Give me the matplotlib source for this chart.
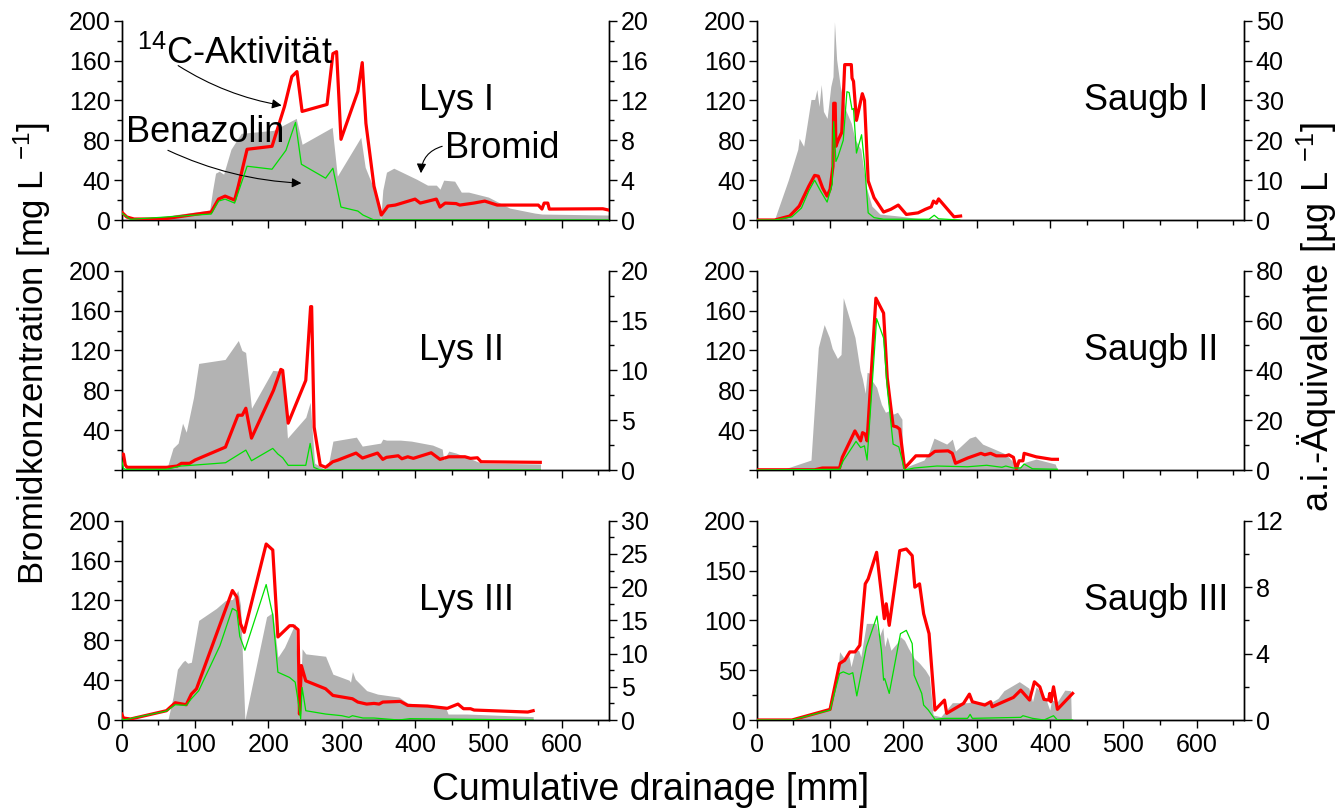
import numpy as np
import matplotlib.pyplot as plt
from matplotlib.ticker import MultipleLocator

plt.rcParams['font.family'] = ['Liberation Sans', 'DejaVu Sans']
plt.rcParams['mathtext.fontset'] = 'custom'
plt.rcParams['mathtext.rm'] = 'Liberation Sans'
plt.rcParams['mathtext.default'] = 'regular'

# --- Lys I  (Bromid mg/L, 14C und Benazolin ug/L) ---
lys1_br_x = [0, 60, 120, 124, 128, 133, 139, 149, 163, 207, 238, 246, 287, 294, 326, 332, 350, 353,
             356, 361, 371, 402, 417, 429, 434, 439, 454, 463, 473, 500, 529, 563, 573, 664]
lys1_br_y = [0, 4, 10, 30, 47, 49, 46, 71, 87, 90, 102, 76, 93, 44, 83, 53, 20, 0,
             30, 48, 52, 41, 35, 35, 31, 40, 39, 28, 28, 23, 12, 7, 6, 5]
lys1_c14_x = [0, 7, 17, 37, 61, 122, 132, 141, 154, 159, 171, 205, 222, 232, 239, 246, 280, 288, 293,
              299, 322, 328, 333, 344, 354, 363, 373, 400, 407, 429, 434, 441, 456, 461, 480, 495, 512,
              568, 573, 576, 581, 583, 656, 664]
lys1_c14_y = [0.8, 0.3, 0.1, 0.1, 0.15, 0.8, 2.1, 2.4, 2.0, 3.4, 7.1, 7.4, 11.4, 14.4, 14.9, 10.9, 11.6,
              16.7, 16.9, 8.1, 12.9, 15.8, 9.7, 3.4, 0.5, 1.4, 1.5, 2.1, 1.7, 2.1, 1.3, 1.7, 1.65, 1.5,
              1.7, 1.9, 1.5, 1.5, 1.1, 1.7, 1.7, 1.1, 1.13, 1.0]
lys1_bz_x = [0, 12, 122, 132, 141, 154, 171, 205, 224, 237, 245, 278, 288, 299, 322, 329, 344, 664]
lys1_bz_y = [0.7, 0.07, 0.6, 1.9, 2.1, 1.7, 5.4, 5.1, 7.0, 9.8, 5.6, 4.2, 5.2, 1.3, 0.9, 0.5, 0, 0]

# --- Saugb I ---
saug1_br_x = [0, 24, 43, 56, 58, 64, 74, 79, 82, 85, 88, 91, 96, 101, 104, 106, 109, 114, 121, 129,
              134, 142, 149, 157, 168, 194, 215, 225, 240, 246]
saug1_br_y = [0, 0, 40, 71, 82, 74, 121, 121, 131, 114, 136, 109, 102, 134, 144, 199, 161, 134, 111, 97,
              81, 71, 34, 14, 6, 4, 2, 1, 1, 0]
saug1_c14_x = [0, 24.5, 45, 58, 71, 79, 84, 90, 96, 100, 104, 105, 107, 108, 111, 116, 120, 129, 130,
               132, 136, 144, 147, 152, 160, 173, 183, 193, 204, 220, 230, 238, 241, 245, 248, 269, 278]
saug1_c14_y = [0, 0, 1.0, 3.5, 8.5, 11.2, 11.0, 8.0, 6.0, 7.7, 13.5, 29.3, 29.3, 18.5, 20, 22, 39, 39,
               35.6, 34.8, 25, 31.7, 30, 9.8, 5.6, 2.0, 2.7, 3.75, 1.4, 1.8, 2.7, 3.3, 4.75, 4.2, 5.3,
               0.8, 1.0]
saug1_bz_x = [0, 24.5, 48, 61, 71, 79, 87, 96, 103, 105, 108, 111, 118, 123, 126, 130, 132, 136, 143,
              147, 152, 160, 173, 235, 242, 248, 277]
saug1_bz_y = [0, 0, 0.8, 3.0, 7.3, 10, 7.3, 4.5, 9, 24.7, 14.7, 16, 20, 32.2, 32, 27.7, 28, 16.8, 21.4,
              14.3, 1.8, 0.6, 0.2, 0.2, 1.2, 0.3, 0]

# --- Lys II ---
lys2_br_x = [0, 61, 70, 77, 83, 88, 98, 105, 141, 159, 164, 169, 177, 206, 220, 226, 251, 257, 263,
             278, 283, 288, 320, 328, 353, 356, 361, 380, 395, 424, 437, 439, 446, 456, 480, 490, 571]
lys2_br_y = [0, 0, 22, 27, 47, 38, 73, 107, 111, 130, 120, 118, 62, 100, 99, 32, 53, 68, 7,
             0, 10, 29, 33, 24, 27, 31, 30, 30, 29, 25, 21, 10, 19, 17, 10, 7, 6]
lys2_c14_x = [0, 2.4, 4.9, 7.3, 61, 75.6, 81.5, 92.7, 100, 141.5, 158.5, 164.4, 169.3, 177, 207, 217,
              219.5, 227, 251, 257.6, 259, 262.4, 270.7, 278, 287.8, 295, 319.5, 328.3, 348.8, 356,
              361, 377, 382, 390, 397.6, 422, 434, 446, 468, 475.6, 485, 490, 570.7]
lys2_c14_y = [1.6, 1.6, 0.5, 0.27, 0.27, 0.4, 0.67, 0.67, 1.0, 2.3, 5.5, 5.5, 6.2, 3.2, 8.0, 10.1,
              10.0, 4.7, 9.0, 16.4, 16.4, 4.3, 0.5, 0.27, 0.83, 1.0, 1.7, 1.2, 1.7, 1.07,
              1.27, 1.43, 1.13, 1.33, 1.17, 1.73, 1.07, 1.33, 1.33, 1.17, 1.23, 0.83, 0.77]
lys2_bz_x = [0, 2.4, 4.9, 61, 80.5, 100, 141.5, 169.3, 177, 206, 213, 219.5, 227, 251, 257, 262,
             270.7, 570.7]
lys2_bz_y = [1.0, 0.17, 0.07, 0.07, 0.4, 0.5, 0.73, 2.0, 0.93, 2.17, 1.6, 1.23, 0.47, 0.47, 2.67,
             0.27, 0, 0]

# --- Saugb II ---
saug2_br_x = [0, 37.5, 74, 84, 92, 99, 103, 110, 115, 118, 126, 134, 141, 144, 148, 150.5, 155, 157,
              163.5, 170, 175.5, 182, 186, 192, 198, 199, 207, 228, 235, 241.7, 259, 266.7, 271, 290,
              298, 308, 324, 339.6, 350, 357.8, 365.6, 381, 407, 410]
saug2_br_y = [0, 1, 10, 123, 146, 133, 122, 112, 116, 173, 153, 133, 100, 92, 77, 98, 97, 90,
              83, 66, 58, 60, 56, 58, 51, 0, 4, 10, 18, 32, 26, 31, 19, 32,
              34, 26, 21, 16, 7.7, 3, 7.7, 11, 6, 0]
saug2_c14_x = [0, 79, 89.6, 113, 116.7, 133.9, 141.7, 144.3, 148, 150.5, 162.5, 173, 178, 186, 191,
               195, 201.6, 206.8, 217, 235, 243, 261, 266.7, 271, 287.5, 305.7, 311, 318.8, 326.6,
               339.6, 343.8, 350, 354, 357.8, 363, 364.6, 381, 402, 410]
saug2_c14_y = [0.1, 0.1, 0.8, 0.8, 5.1, 15.7, 11.7, 15, 14.4, 11.7, 69, 63, 37, 17.7, 17.3,
               16.4, 0.8, 2.4, 5.7, 5.7, 7.5, 7.7, 6.7, 2.7, 4.8, 6.7, 6.1, 6.7, 5.7,
               5.7, 6.1, 5.1, 0.4, 3.7, 3.7, 6.7, 5.3, 4.3, 4.3]
saug2_bz_x = [0, 113, 118, 135.4, 141.7, 146.9, 150.5, 163.5, 173, 178, 186, 193.75, 201.6, 214.6,
              245.8, 287.5, 313.5, 334.4, 339.6, 350, 360, 364.6, 376, 410]
saug2_bz_y = [0, 0.3, 3.7, 11.5, 9, 9.7, 4, 60.8, 53, 33, 10.4, 9.3, 0, 0.8,
              1.6, 1.3, 1.9, 1.1, 1.6, 0.8, 0.8, 2.4, 0.5, 0.3]

# --- Lys III ---
lys3_br_x = [0, 63, 70, 76, 83, 86, 90, 95, 105, 129, 141.5, 151, 158.5, 162, 168, 197.6, 206, 213,
             222, 236.6, 242.4, 246, 251, 278, 288, 310, 312, 314.6, 318.5, 334, 349, 378, 390,
             441.5, 445, 470.7, 561]
lys3_br_y = [0, 0, 23, 51, 58, 60, 57, 58, 100, 112, 120, 121, 130, 115, 0, 103.7, 108, 63,
             73, 97, 0, 71.5, 66.4, 64, 46, 40, 38, 48.6, 41, 29.5, 26, 23, 17,
             12.7, 6, 6, 3.4]
lys3_c14_x = [0, 2.4, 12, 61, 73, 88, 95, 102, 151, 157, 162, 167, 197, 206, 213, 229, 234, 240.5,
              242.4, 245, 251, 278, 288, 314.6, 322, 334, 344, 351, 356, 380, 390, 417, 444, 458.5,
              466, 475.6, 480.5, 553.7, 561]
lys3_c14_y = [0.9, 0.3, 0.15, 1.4, 2.6, 2.3, 3.9, 4.7, 19.5, 18.5, 14.5, 13.2, 26.5, 25.6, 12.5,
              14.2, 14.2, 13.6, 0.9, 8.2, 5.9, 4.7, 3.7, 3.2, 2.7, 2.4, 2.5, 2.4, 2.7, 2.8, 2.2,
              2.1, 1.76, 2.4, 1.7, 1.7, 1.5, 1.2, 1.4]
lys3_bz_x = [0, 2.4, 61, 73, 88, 95, 105, 134, 151, 157, 161, 168, 197, 206, 213, 229, 236.6, 240.5,
             244, 246, 251, 278, 300, 310, 314.6, 329, 344, 378, 393, 561]
lys3_bz_y = [0.3, 0, 1.35, 2.3, 2.2, 3.2, 4.4, 11.2, 16.8, 16.4, 12.6, 10.5, 20.4, 15.8, 7.2, 6.4,
             5.7, 2.9, 0.15, 4.9, 1.4, 0.9, 0.65, 0.4, 0.65, 0.3, 0.3, 0, 0.2, 0]

# --- Saugb III ---
saug3_br_x = [0, 48, 100, 110, 113, 121, 125, 128.6, 134, 139, 142, 149.5, 162.5, 167, 172, 174.5,
              178, 183, 191, 196, 201.5, 206.8, 214.6, 222, 230, 235.4, 240.6, 251, 266.7, 287.5,
              295, 319, 329, 337, 358, 371, 376, 381, 394, 399.5, 402, 410, 420, 428, 429]
saug3_br_y = [0, 0, 10, 45, 68.6, 60, 67, 53.5, 70, 70, 63.5, 97, 97, 83.6, 93, 73.6,
              83.6, 70, 77, 83.6, 80, 72, 62, 57, 50, 43.5, 5, 3.3, 17.4, 17.4,
              18.4, 17.4, 21.7, 29.4, 38.5, 32, 18.4, 33.4, 21.7, 10, 20, 18.4, 30, 29.4, 0]
saug3_c14_x = [0, 48, 100, 113, 120, 127, 134, 140.6, 148, 152, 163.5, 174, 176.6, 180.7, 195, 204,
               212, 215.6, 222, 227.6, 235, 243, 256, 259, 282, 290, 294, 311, 319, 321, 350, 360,
               372, 378.6, 386, 391.7, 398, 399.5, 401, 404.7, 410, 430.7]
saug3_c14_y = [0, 0, 0.64, 3.4, 3.6, 4.1, 4.1, 4.5, 8.2, 8.5, 10.1, 6.1, 7.0, 5.7, 10.2, 10.3,
               9.9, 8.0, 8.2, 6.4, 5.2, 0.6, 1.2, 0.4, 1.0, 1.56, 1.1, 0.9, 1.1, 0.8, 1.36, 1.8,
               1.2, 2.3, 2.0, 1.24, 1.2, 1.6, 1.1, 2.0, 0.64, 1.6]
saug3_bz_x = [0, 48, 100, 113, 118, 126, 131, 136.5, 149.5, 164, 170, 173, 174.5, 180.7, 196, 204,
              212, 214.6, 225, 227.6, 234, 243, 256, 287.5, 291, 294, 360, 363, 376, 391.7, 404.7,
              410, 430.7]
saug3_bz_y = [0, 0, 0.6, 2.8, 2.9, 2.75, 2.85, 1.45, 4.4, 6.26, 4.2, 2.4, 2.5, 1.6, 5.2, 5.4,
              4.6, 2.7, 1.6, 0.9, 0.6, 0.04, 0.1, 0.1, 0.34, 0.1, 0.16, 0.26, 0.1, 0, 0.26,
              0, 0]

# name, Bromid, 14C, Benazolin, rechte Achse max, major/minor rechts, major/minor links
panels = [
    ('Lys I', lys1_br_x, lys1_br_y, lys1_c14_x, lys1_c14_y, lys1_bz_x, lys1_bz_y, 20, 4, 2, 40, 20),
    ('Saugb I', saug1_br_x, saug1_br_y, saug1_c14_x, saug1_c14_y, saug1_bz_x, saug1_bz_y, 50, 10, 5, 40, 20),
    ('Lys II', lys2_br_x, lys2_br_y, lys2_c14_x, lys2_c14_y, lys2_bz_x, lys2_bz_y, 20, 5, 2.5, 40, 20),
    ('Saugb II', saug2_br_x, saug2_br_y, saug2_c14_x, saug2_c14_y, saug2_bz_x, saug2_bz_y, 80, 20, 10, 40, 20),
    ('Lys III', lys3_br_x, lys3_br_y, lys3_c14_x, lys3_c14_y, lys3_bz_x, lys3_bz_y, 30, 5, 2.5, 40, 20),
    ('Saugb III', saug3_br_x, saug3_br_y, saug3_c14_x, saug3_c14_y, saug3_bz_x, saug3_bz_y, 12, 4, 2, 50, 25),
]

fig = plt.figure(figsize=(13.4, 8.08), dpi=100)

col_left = [0.0908, 0.5647]
col_w = 0.3640
row_bot = [0.7277, 0.4183, 0.1089]
row_h = 0.2466
label_x = [405, 446]

axes = []
for i, p in enumerate(panels):
    name, bx, by, cx, cy, zx, zy, rmax, rmaj, rmin, lmaj, lmin = p
    row, col = i // 2, i % 2
    ax = fig.add_axes([col_left[col], row_bot[row], col_w, row_h])
    ax2 = ax.twinx()

    ax.fill_between(bx, 0, by, color='#b3b3b3', lw=0)
    ax2.plot(cx, cy, color='#ff0000', lw=2.3, zorder=3)
    ax2.plot(zx, zy, color='#00e000', lw=0.9, zorder=4)

    ax.set_xlim(0, 665)
    ax.set_ylim(0, 200)
    ax2.set_ylim(0, rmax)

    ax.xaxis.set_major_locator(MultipleLocator(100))
    ax.xaxis.set_minor_locator(MultipleLocator(50))
    ax.yaxis.set_major_locator(MultipleLocator(lmaj))
    ax.yaxis.set_minor_locator(MultipleLocator(lmin))
    ax2.yaxis.set_major_locator(MultipleLocator(rmaj))
    ax2.yaxis.set_minor_locator(MultipleLocator(rmin))

    if row == 1:
        ax.set_yticks(np.arange(0, 201, 40))
        ax.set_yticklabels([''] + [str(v) for v in range(40, 201, 40)])

    for a in (ax, ax2):
        a.spines['top'].set_visible(False)
        for s in a.spines.values():
            s.set_linewidth(1.0)
        a.tick_params(which='major', direction='out', length=6, width=1, labelsize=18, pad=2)
        a.tick_params(which='minor', direction='out', length=3.5, width=1)
    ax.tick_params(axis='x', labelsize=18, pad=3)
    if row < 2:
        ax.tick_params(labelbottom=False)

    ax2.text(label_x[col], 0.55, name, transform=ax.get_xaxis_transform(),
             fontsize=26, ha='left', va='baseline')
    axes.append((ax, ax2))

# Beschriftung der Kurven in Lys I
ax, ax2 = axes[0]
ax2.text(21, 157, '$^{14}$C-Aktivität', transform=ax.transData, fontsize=26, va='baseline', zorder=6)
ax2.text(6, 78, 'Benazolin', transform=ax.transData, fontsize=26, va='baseline', zorder=6)
ax2.text(441, 62, 'Bromid', transform=ax.transData, fontsize=26, va='baseline', zorder=6)
arr = dict(arrowstyle='-|>', color='k', lw=0.8, mutation_scale=14, shrinkA=0, shrinkB=0)
ax2.annotate('', xy=(218, 115), xytext=(77, 155), xycoords=ax.transData, textcoords=ax.transData,
             arrowprops=dict(arr, connectionstyle='arc3,rad=0.1'))
ax2.annotate('', xy=(245, 37), xytext=(63, 70), xycoords=ax.transData, textcoords=ax.transData,
             arrowprops=dict(arr, connectionstyle='arc3,rad=0.1'))
ax2.annotate('', xy=(408, 47), xytext=(437, 74), xycoords=ax.transData, textcoords=ax.transData,
             arrowprops=dict(arr, connectionstyle='arc3,rad=0.35'))

fig.text(0.024, 1 - 353 / 808, 'Bromidkonzentration [mg L $^{-1}$]', rotation=90,
         ha='center', va='center', fontsize=25)
fig.text(1317 / 1340, 1 - 317 / 808, 'a.i.-Äquivalente [µg L $^{-1}$]', rotation=90,
         ha='center', va='center', fontsize=26)
fig.text(651 / 1340, 8 / 808, 'Cumulative drainage [mm]', ha='center', va='baseline', fontsize=27)

fig.savefig('out.png', dpi=100)
